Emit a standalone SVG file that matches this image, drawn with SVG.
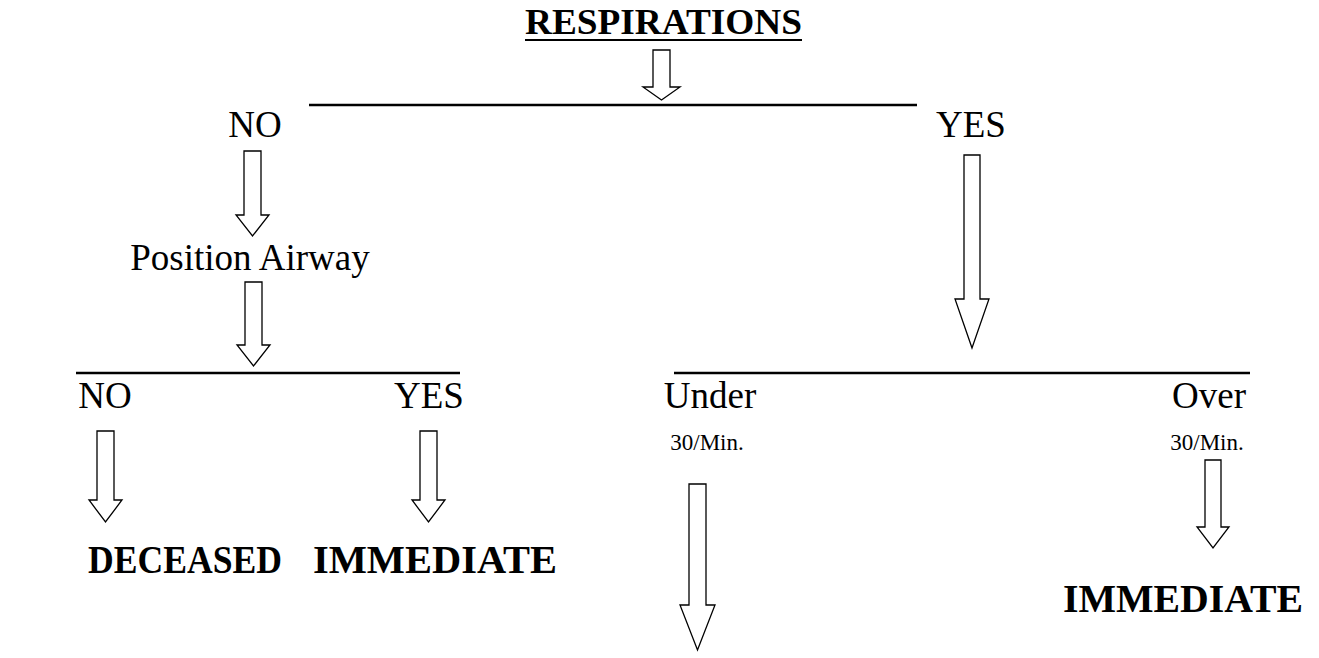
<svg xmlns="http://www.w3.org/2000/svg" width="1319" height="658" viewBox="0 0 1319 658">
<style>
.t{font-family:"Liberation Serif","Times New Roman",serif;fill:#000}
.r{font-size:37px}
.b{font-size:39px;font-weight:bold}
.s{font-size:23px}
.ar{fill:#fff;stroke:#000;stroke-width:1.3}
.ln{stroke:#000;stroke-width:2.5}
</style>
<rect width="1319" height="658" fill="#fff"/>
<g id="title">
<text class="t" x="525" y="34" font-size="35" font-weight="bold" textLength="277" lengthAdjust="spacingAndGlyphs">RESPIRATIONS</text>
<line x1="525" y1="40" x2="802" y2="40" stroke="#000" stroke-width="2.2"/>
</g>
<g id="no1"><text class="t r" x="255" y="137" text-anchor="middle">NO</text></g>
<g id="yes1"><text class="t r" x="971" y="137" text-anchor="middle">YES</text></g>
<g id="position"><text class="t r" x="250" y="270" text-anchor="middle">Position Airway</text></g>
<g id="no2"><text class="t r" x="105" y="408" text-anchor="middle">NO</text></g>
<g id="yes2"><text class="t r" x="429" y="408" text-anchor="middle">YES</text></g>
<g id="deceased"><text class="t b" x="88" y="573" textLength="194" lengthAdjust="spacingAndGlyphs">DECEASED</text></g>
<g id="immediate1"><text class="t b" x="313" y="573" textLength="244" lengthAdjust="spacingAndGlyphs">IMMEDIATE</text></g>
<g id="under"><text class="t r" x="710" y="408" text-anchor="middle">Under</text><text class="t s" x="707" y="450" text-anchor="middle">30/Min.</text></g>
<g id="over"><text class="t r" x="1209" y="408" text-anchor="middle">Over</text><text class="t s" x="1207" y="450" text-anchor="middle">30/Min.</text></g>
<g id="immediate2"><text class="t b" x="1063" y="612" textLength="240" lengthAdjust="spacingAndGlyphs">IMMEDIATE</text></g>
<g id="connectors">
<line class="ln" x1="309" y1="105" x2="917" y2="105"/>
<line class="ln" x1="76" y1="373" x2="460" y2="373"/>
<line class="ln" x1="674" y1="373" x2="1250" y2="373"/>
<path class="ar" d="M653,50 H670 V87 H680 L661.5,100 L643,87 H653 Z"/>
<path class="ar" d="M244,151 H261 V215 H269 L252.5,236 L236,215 H244 Z"/>
<path class="ar" d="M245,282 H262 V345 H270 L253.5,366 L237,345 H245 Z"/>
<path class="ar" d="M964,155 H980 V299 H989 L972,348 L955,299 H964 Z"/>
<path class="ar" d="M97,431 H114 V500 H122 L105.5,522 L89,500 H97 Z"/>
<path class="ar" d="M420,431 H437 V500 H445 L428.5,522 L412,500 H420 Z"/>
<path class="ar" d="M689,484 H706 V605 H715 L697.5,650 L680,605 H689 Z"/>
<path class="ar" d="M1205,460 H1221 V527 H1229 L1213,548 L1197,527 H1205 Z"/>
</g>
</svg>
